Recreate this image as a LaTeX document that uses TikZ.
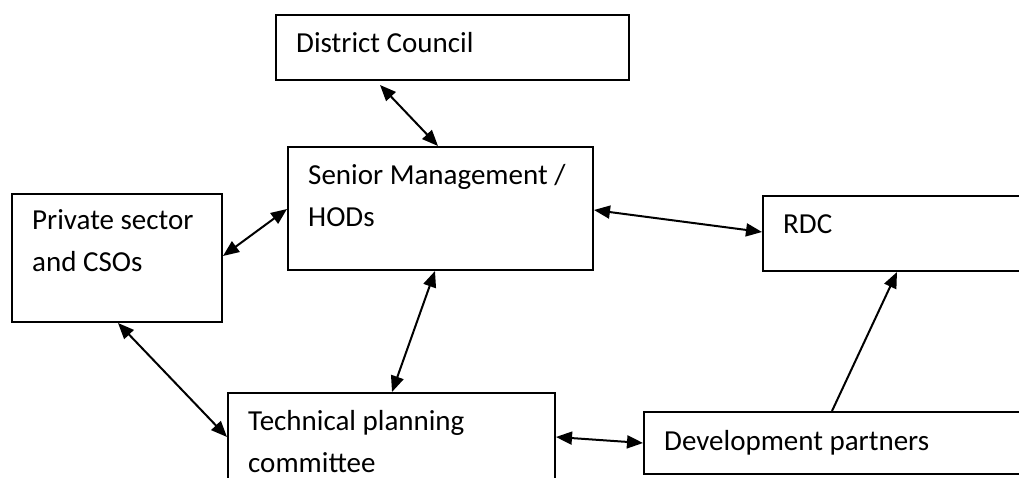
\documentclass[tikz,border=0pt]{standalone}
\usepackage{fontspec}
\setmainfont{Carlito}
\usepackage{tikz}
\usetikzlibrary{positioning,arrows.meta}

\tikzset{
	unit/.style={draw, line width=2pt, anchor=north west, inner sep=0pt},
	lbl/.style={anchor=base west, xshift=21pt, yshift=#1, align=left, inner sep=0pt},
	lbl/.default=-39pt,
	link/.style={line width=2pt, {Triangle[length=16pt,width=13pt]}-{Triangle[length=16pt,width=13pt]}},
	feed/.style={line width=2pt, -{Triangle[length=16pt,width=13pt]}}
}

\begin{document}
\begin{tikzpicture}[x=1pt, y=-1pt, font=\fontsize{29}{42}\selectfont]
		\useasboundingbox (0,0) rectangle (1019,478);
		\clip (0,0) rectangle (1019,478);
		
		% boxes, text sits at the top left
		\node (dc)  [unit, minimum width=353pt, minimum height=65pt,
			label={[lbl]north west:District Council}] at (275,14) {};
		\node (sm)  [unit, minimum width=305pt, minimum height=123pt,
			label={[lbl=-81pt]north west:Senior Management /\\HODs}] at (287,146) {};
		\node (ps)  [unit, minimum width=210pt, minimum height=128pt,
			label={[lbl=-79pt]north west:Private sector\\and CSOs}] at (11,193) {};
		\node (rdc) [unit, minimum width=300pt, minimum height=75pt,
			label={[lbl]north west:RDC}] at (762,195) {};
		\node (tpc) [unit, minimum width=327pt, minimum height=120pt,
			label={[lbl=-80pt]north west:Technical planning\\committee}] at (227,392) {};
		\node (dp)  [unit, minimum width=420pt, minimum height=62pt,
			label={[lbl]north west:Development partners}] at (643,411) {};
		
		\draw [link] ([xshift=105pt,yshift=-4pt]dc.south west) to ([xshift=151pt]sm.north west);
		\draw [link] ([yshift=-63pt]ps.north east) to ([yshift=-63pt]sm.north west);
		\draw [link] ([yshift=-64pt]sm.north east) to ([yshift=-37pt]rdc.north west);
		\draw [link] ([xshift=148pt]sm.south west) to ([xshift=165pt]tpc.north west);
		\draw [link] ([xshift=107pt]ps.south west) to ([yshift=-45pt]tpc.north west);
		\draw [link] ([yshift=-45pt]tpc.north east) to ([yshift=-32pt]dp.north west);
		
		\draw [feed] ([xshift=189pt]dp.north west) to ([xshift=135pt]rdc.south west);
	\end{tikzpicture}
\end{document}
